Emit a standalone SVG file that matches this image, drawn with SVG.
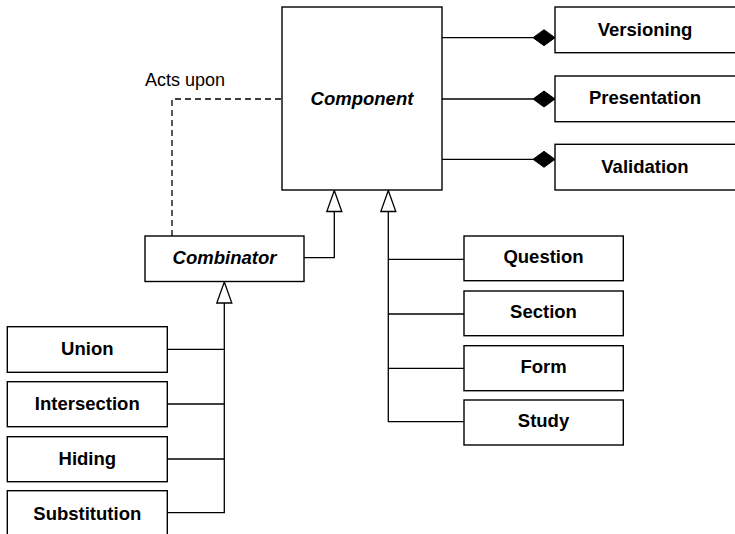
<svg xmlns="http://www.w3.org/2000/svg" width="735" height="534" viewBox="0 0 735 534">
  <style>
    .box { fill: #fff; stroke: #000; stroke-width: 1.4; }
    .lbl { font-family: "Liberation Sans", Arial, Helvetica, sans-serif; font-size: 18.5px; font-weight: bold; text-anchor: middle; fill: #000; }
    .abs { font-style: italic; }
    .note { font-family: "Liberation Sans", Arial, Helvetica, sans-serif; font-size: 18px; fill: #000; }
    .ln { fill: none; stroke: #000; stroke-width: 1.3; }
    .dash { fill: none; stroke: #000; stroke-width: 1.3; stroke-dasharray: 6 4; }
    .tri { fill: #fff; stroke: #000; stroke-width: 1.3; }
    .dia { fill: #000; stroke: #000; stroke-width: 1; }
  </style>
  <rect width="735" height="534" fill="#fff"/>

  <!-- connectors -->
  <g id="connectors">
    <!-- composition links to the component -->
    <path class="ln" d="M442 37.7 H533"/>
    <path class="ln" d="M442 99 H533"/>
    <path class="ln" d="M442 159.3 H533"/>
    <polygon class="dia" points="533,37.7 544,29.7 555,37.7 544,45.7"/>
    <polygon class="dia" points="533,99 544,91 555,99 544,107"/>
    <polygon class="dia" points="533,159.3 544,151.3 555,159.3 544,167.3"/>

    <!-- "acts upon" dependency -->
    <path class="dash" d="M172 236 V99 H282"/>
    <text class="note" x="145" y="86">Acts upon</text>

    <!-- combinator generalises component -->
    <path class="ln" d="M304 257.7 H334.3 V211"/>
    <polygon class="tri" points="334.3,190.5 326.8,211.5 341.8,211.5"/>

    <!-- concrete components generalise component -->
    <path class="ln" d="M388.3 211 V421.7 H464"/>
    <path class="ln" d="M388.3 259.3 H464"/>
    <path class="ln" d="M388.3 314 H464"/>
    <path class="ln" d="M388.3 368.3 H464"/>
    <polygon class="tri" points="388.3,190.5 380.8,211.5 395.8,211.5"/>

    <!-- operators generalise combinator -->
    <path class="ln" d="M224.3 303 V512.7 H167"/>
    <path class="ln" d="M167 349.3 H224.3"/>
    <path class="ln" d="M167 404 H224.3"/>
    <path class="ln" d="M167 459 H224.3"/>
    <polygon class="tri" points="224.3,282 216.8,303 231.8,303"/>
  </g>

  <g id="component">
    <rect class="box" x="282" y="7" width="160" height="183"/>
    <text class="lbl abs" x="362" y="105">Component</text>
  </g>

  <g id="versioning">
    <rect class="box" x="555" y="7" width="182" height="45.7"/>
    <text class="lbl" x="645" y="36">Versioning</text>
  </g>
  <g id="presentation">
    <rect class="box" x="555" y="76" width="182" height="45.7"/>
    <text class="lbl" x="645" y="104.3">Presentation</text>
  </g>
  <g id="validation">
    <rect class="box" x="555" y="144.3" width="182" height="45.7"/>
    <text class="lbl" x="645" y="172.7">Validation</text>
  </g>

  <g id="combinator">
    <rect class="box" x="145" y="236" width="159" height="45.5"/>
    <text class="lbl abs" x="224.5" y="264">Combinator</text>
  </g>

  <g id="question">
    <rect class="box" x="464" y="236" width="159.3" height="44.7"/>
    <text class="lbl" x="543.5" y="263.3">Question</text>
  </g>
  <g id="section">
    <rect class="box" x="464" y="291" width="159.3" height="44.7"/>
    <text class="lbl" x="543.5" y="318.3">Section</text>
  </g>
  <g id="form">
    <rect class="box" x="464" y="345.7" width="159.3" height="45"/>
    <text class="lbl" x="543.5" y="373.3">Form</text>
  </g>
  <g id="study">
    <rect class="box" x="464" y="400" width="159.3" height="45"/>
    <text class="lbl" x="543.5" y="427.3">Study</text>
  </g>

  <g id="union">
    <rect class="box" x="7.3" y="326.7" width="160" height="45.6"/>
    <text class="lbl" x="87.3" y="355">Union</text>
  </g>
  <g id="intersection">
    <rect class="box" x="7.3" y="381.7" width="160" height="45"/>
    <text class="lbl" x="87.3" y="410">Intersection</text>
  </g>
  <g id="hiding">
    <rect class="box" x="7.3" y="436.7" width="160" height="45"/>
    <text class="lbl" x="87.3" y="465">Hiding</text>
  </g>
  <g id="substitution">
    <rect class="box" x="7.3" y="490.7" width="160" height="50"/>
    <text class="lbl" x="87.3" y="520">Substitution</text>
  </g>
</svg>
